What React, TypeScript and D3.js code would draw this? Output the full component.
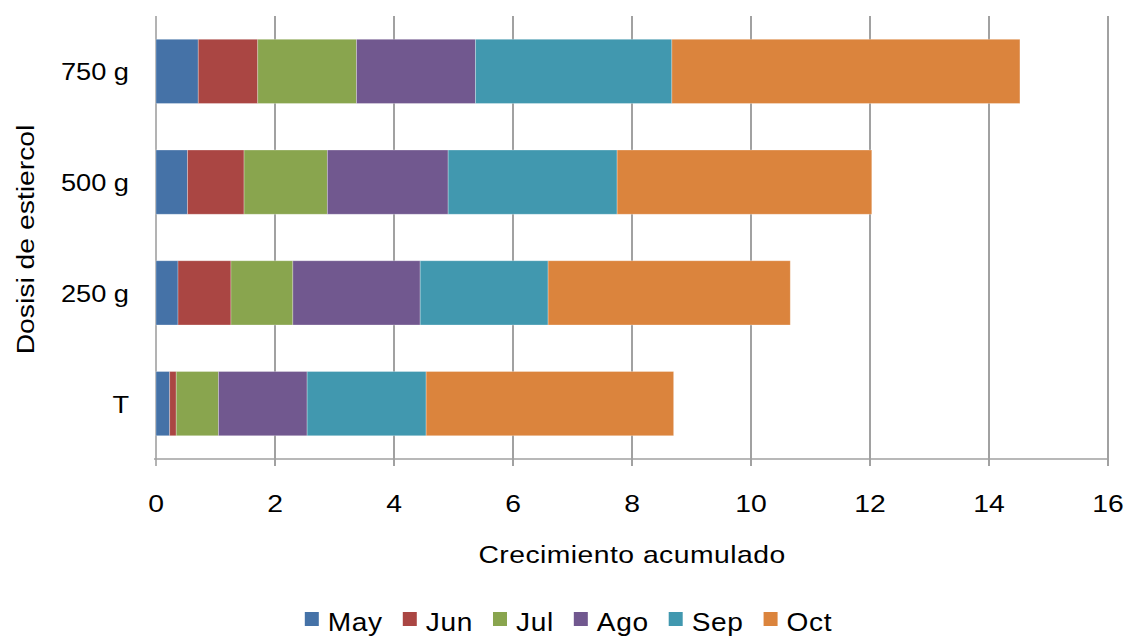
import React, { useEffect, useRef } from "react";
import * as d3 from "d3";

// Manure dose categories (top to bottom)
const categories = ["750 g", "500 g", "250 g", "T"];

// Monthly growth increments per dose, in category order
const months = ["May", "Jun", "Jul", "Ago", "Sep", "Oct"];
const mayValues = [0.71, 0.53, 0.37, 0.23];
const junValues = [1.0, 0.95, 0.89, 0.11];
const julValues = [1.66, 1.4, 1.04, 0.71];
const agoValues = [2.0, 2.03, 2.14, 1.49];
const sepValues = [3.3, 2.84, 2.15, 2.0];
const octValues = [5.85, 4.28, 4.07, 4.16];

const xTicks = [0, 2, 4, 6, 8, 10, 12, 14, 16];

const colors = ["#4572A7", "#AA4643", "#89A54E", "#71588F", "#4198AF", "#DB843D"];

const W = 1128;
const H = 638;
const FONT = "'Liberation Sans', Arial, sans-serif";
// text in this chart is drawn slightly wide
const SX = 1.18;

export default function App() {
  const ref = useRef<SVGSVGElement | null>(null);

  useEffect(() => {
    const svg = d3.select(ref.current);
    svg.selectAll("*").remove();

    const left = 156;
    const right = 1108;
    const top = 16;
    const bottom = 459;

    const x = d3.scaleLinear().domain([0, 16]).range([left, right]);
    const y = d3
      .scaleBand<string>()
      .domain(categories)
      .range([top, bottom])
      .paddingInner(0.42)
      .paddingOuter(0.21);

    const seriesValues = [mayValues, junValues, julValues, agoValues, sepValues, octValues];
    const rows = categories.map((c, i) => {
      const r: Record<string, any> = { cat: c };
      months.forEach((m, j) => (r[m] = seriesValues[j][i]));
      return r;
    });
    const stacked = d3.stack<any>().keys(months)(rows);

    // vertical gridlines with tick marks below the axis
    svg
      .append("g")
      .selectAll("line")
      .data(xTicks.slice(1))
      .join("line")
      .attr("x1", (d) => x(d))
      .attr("x2", (d) => x(d))
      .attr("y1", top)
      .attr("y2", bottom + 7)
      .attr("stroke", "#8a8a8a")
      .attr("stroke-width", 1.6);

    // y axis line
    svg
      .append("line")
      .attr("x1", x(0))
      .attr("x2", x(0))
      .attr("y1", top)
      .attr("y2", bottom + 7)
      .attr("stroke", "#a0a0a0")
      .attr("stroke-width", 1.6);

    // x axis line
    svg
      .append("line")
      .attr("x1", x(0) - 2)
      .attr("x2", x(16))
      .attr("y1", bottom)
      .attr("y2", bottom)
      .attr("stroke", "#a0a0a0")
      .attr("stroke-width", 1.6);

    // stacked bars
    svg
      .append("g")
      .selectAll("g")
      .data(stacked)
      .join("g")
      .attr("fill", (_d, i) => colors[i])
      .selectAll("rect")
      .data((d) => d)
      .join("rect")
      .attr("x", (d) => x(d[0]))
      .attr("width", (d) => x(d[1]) - x(d[0]))
      .attr("y", (d) => y(d.data.cat)!)
      .attr("height", y.bandwidth())
      .attr("stroke", "rgba(255,255,255,0.35)")
      .attr("stroke-width", 0.8);

    // x tick labels
    svg
      .append("g")
      .selectAll("text")
      .data(xTicks)
      .join("text")
      .attr("transform", (d) => `translate(${x(d)},512) scale(${SX},1)`)
      .attr("text-anchor", "middle")
      .attr("font-family", FONT)
      .attr("font-size", 24)
      .attr("fill", "#000")
      .text((d) => String(d));

    // category labels
    svg
      .append("g")
      .selectAll("text")
      .data(categories)
      .join("text")
      .attr(
        "transform",
        (d) => `translate(129,${y(d)! + y.bandwidth() / 2 + 9}) scale(${SX * 0.96},1)`
      )
      .attr("text-anchor", "end")
      .attr("font-family", FONT)
      .attr("font-size", 24)
      .attr("fill", "#000")
      .text((d) => d);

    // axis titles
    svg
      .append("text")
      .attr("transform", `translate(${(left + right) / 2},563) scale(${SX},1)`)
      .attr("text-anchor", "middle")
      .attr("font-family", FONT)
      .attr("font-size", 24)
      .attr("letter-spacing", 0.4)
      .attr("fill", "#000")
      .text("Crecimiento acumulado");

    svg
      .append("text")
      .attr("transform", `translate(34, ${(top + bottom) / 2 + 2}) rotate(-90) scale(${SX},1)`)
      .attr("text-anchor", "middle")
      .attr("font-family", FONT)
      .attr("font-size", 24)
      .attr("fill", "#000")
      .text("Dosisi de estiercol");

    // legend, laid out from measured text widths and centred
    const legend = svg.append("g");
    const sq = 14;
    const gapAfterSquare = 9;
    const gapBetween = 20;
    const lsx = 1.08;
    let cursor = 0;
    months.forEach((m, i) => {
      const g = legend.append("g").attr("transform", `translate(${cursor},0)`);
      g.append("rect")
        .attr("x", 0)
        .attr("y", -19)
        .attr("width", sq)
        .attr("height", sq)
        .attr("fill", colors[i]);
      const t = g
        .append("text")
        .attr("transform", `translate(${sq + gapAfterSquare},0) scale(${lsx},1)`)
        .attr("font-family", FONT)
        .attr("font-size", 26)
        .attr("letter-spacing", 0.6)
        .attr("fill", "#000")
        .text(m);
      const w = (t.node() as SVGTextElement).getComputedTextLength() * lsx;
      cursor += sq + gapAfterSquare + w + gapBetween;
    });
    const total = cursor - gapBetween;
    legend.attr("transform", `translate(${568.5 - total / 2}, 631)`);
  }, []);

  return (
    <svg
      ref={ref}
      width={W}
      height={H}
      style={{ position: "absolute", left: 0, top: 0, background: "#fff" }}
    />
  );
}
